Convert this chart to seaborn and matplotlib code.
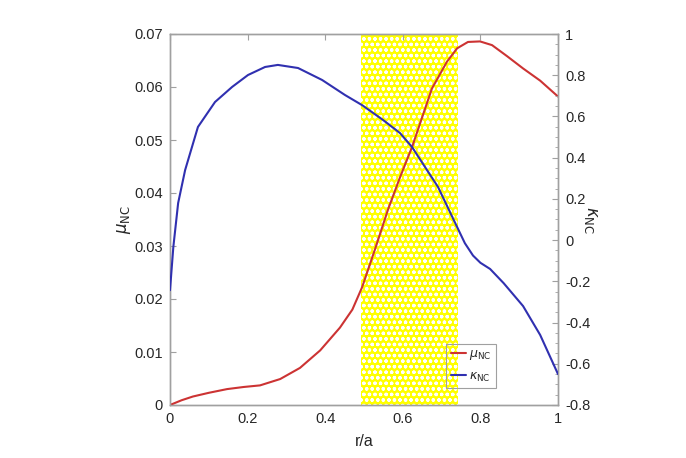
import matplotlib
matplotlib.use("Agg")
import matplotlib.pyplot as plt
import seaborn as sns
import pandas as pd
from matplotlib.ticker import MultipleLocator, FixedLocator

# ---- data ----
r_mu = [0, 0.03, 0.059, 0.10, 0.147, 0.19, 0.232, 0.284, 0.335, 0.387, 0.438, 0.47,
        0.495, 0.528, 0.562, 0.593, 0.624, 0.675, 0.714, 0.740, 0.768, 0.799,
        0.83, 0.869, 0.910, 0.954, 1.0]
mu_nc = [0, 0.0009, 0.0016, 0.0023, 0.0030, 0.0034, 0.0037, 0.0049, 0.0070, 0.0103,
         0.0146, 0.0180, 0.0222, 0.0293, 0.0369, 0.0430, 0.0487, 0.0597, 0.0648,
         0.0673, 0.0685, 0.0686, 0.0679, 0.0658, 0.0635, 0.0612, 0.0582]

r_kappa = [0.0, 0.0086, 0.021, 0.039, 0.072, 0.116, 0.160, 0.201, 0.245, 0.278,
           0.330, 0.392, 0.451, 0.495, 0.549, 0.593, 0.624, 0.691, 0.735, 0.760,
           0.781, 0.800, 0.825, 0.860, 0.910, 0.954, 1.0]
kappa_nc = [-0.243, -0.033, 0.180, 0.340, 0.549, 0.670, 0.743, 0.801, 0.840, 0.850,
            0.835, 0.777, 0.704, 0.655, 0.583, 0.519, 0.451, 0.257, 0.083, -0.015,
            -0.075, -0.110, -0.140, -0.209, -0.32, -0.46, -0.65]

x_ticks = [0, 0.2, 0.4, 0.6, 0.8, 1.0]
x_labels = ["0", "0.2", "0.4", "0.6", "0.8", "1"]
left_ticks = [0, 0.01, 0.02, 0.03, 0.04, 0.05, 0.06, 0.07]
left_labels = ["0", "0.01", "0.02", "0.03", "0.04", "0.05", "0.06", "0.07"]
right_ticks = [-0.8, -0.6, -0.4, -0.2, 0, 0.2, 0.4, 0.6, 0.8, 1.0]
right_labels = ["-0.8", "-0.6", "-0.4", "-0.2", "0", "0.2", "0.4", "0.6", "0.8", "1"]
band = (0.492, 0.742)

sns.set_style("white")
plt.rcParams["font.family"] = ["Liberation Sans", "DejaVu Sans"]
plt.rcParams["mathtext.fontset"] = "dejavusans"
plt.rcParams["hatch.linewidth"] = 0.9

RED = "#cc3333"
BLUE = "#3030b0"
AXC = "#a0a0a0"
TXT = "#262626"

fig = plt.figure(figsize=(6.86, 4.58), dpi=100)
ax = fig.add_axes([170/686, 53/458, 388/686, 371/458])
ax2 = ax.twinx()

ax.axvspan(band[0], band[1], facecolor="#ffff00", edgecolor="white",
           hatch="ooo", linewidth=0, zorder=0)

df_mu = pd.DataFrame({"r": r_mu, "mu": mu_nc})
df_k = pd.DataFrame({"r": r_kappa, "kappa": kappa_nc})
sns.lineplot(data=df_mu, x="r", y="mu", ax=ax, color=RED, lw=1.5, zorder=3)
sns.lineplot(data=df_k, x="r", y="kappa", ax=ax2, color=BLUE, lw=1.5, zorder=3)

ax.set_xlim(0, 1)
ax.set_ylim(0, 0.07)
ax2.set_ylim(-0.8, 1.0)

ax.xaxis.set_major_locator(FixedLocator(x_ticks))
ax.set_xticklabels(x_labels)
ax.yaxis.set_major_locator(FixedLocator(left_ticks))
ax.set_yticklabels(left_labels)
ax2.yaxis.set_major_locator(FixedLocator(right_ticks))
ax2.set_yticklabels(right_labels)
ax2.yaxis.set_minor_locator(MultipleLocator(0.05))

for a in (ax, ax2):
    for s in a.spines.values():
        s.set_color(AXC)
        s.set_linewidth(1.0)
        s.set_visible(True)
ax.tick_params(axis="both", which="major", direction="in", length=4, width=0.8,
               color=AXC, labelcolor=TXT, labelsize=10.5, top=True, pad=5)
ax.tick_params(axis="y", right=False)
ax2.tick_params(axis="y", which="major", direction="in", length=4, width=0.8,
                color=AXC, labelcolor=TXT, labelsize=10.5, pad=5)
ax2.tick_params(axis="y", which="minor", direction="in", length=2, width=0.6, color=AXC)

ax.set_xlabel("r/a", fontsize=11.5, color=TXT, labelpad=6)
ax.set_ylabel(r"$\mu_{\mathrm{NC}}$", fontsize=12, color=TXT, labelpad=1)
ax2.set_ylabel(r"$\kappa_{\mathrm{NC}}$", fontsize=12, color=TXT, rotation=270, labelpad=6)

h1 = ax.get_lines()[0]
h2 = ax2.get_lines()[0]
leg = ax2.legend([h1, h2], [r"$\mu_{\mathrm{NC}}$", r"$\kappa_{\mathrm{NC}}$"],
                 loc="lower left", bbox_to_anchor=(0.712, 0.045), fontsize=9,
                 frameon=True, fancybox=False, handlelength=1.2, handletextpad=0.3,
                 borderpad=0.35, borderaxespad=0, labelspacing=0.7, framealpha=1)
leg.get_frame().set_edgecolor(AXC)
leg.get_frame().set_facecolor("none")
leg.get_frame().set_linewidth(0.8)

fig.savefig("out.png", dpi=100)
